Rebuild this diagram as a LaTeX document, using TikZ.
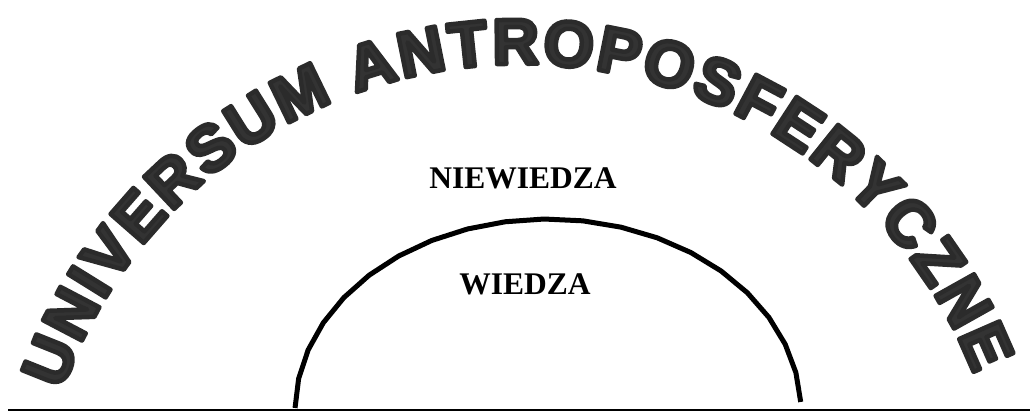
\documentclass[tikz,border=0pt]{standalone}
\usepackage{fontspec}
\setmainfont{Liberation Serif}
\newfontfamily\archfont{Liberation Sans Bold}[FakeBold=7]
\usetikzlibrary{decorations.text}
\newcommand\archstyle{\archfont\fontsize{64}{64}\selectfont}
\newcommand\archchar[1]{\kern1.5pt\special{pdf:bcolor [0.2 0.2 0.2] [0.17 0.17 0.17]}#1\special{pdf:ecolor}\kern1.5pt}
\begin{document}
\begin{tikzpicture}[x=1pt,y=1pt,
  label text/.style={font=\bfseries\fontsize{31.5}{32}\selectfont, anchor=base, inner sep=0pt},
  ground/.style={line width=1.5pt},
  boundary/.style={line width=5pt}]
\useasboundingbox (0,0) rectangle (1030,411);
\coordinate (C) at (521,-139);
\coordinate (gl) at (8,0.75);
\coordinate (gr) at (1030,0.75);
\draw[ground] (gl) -- (gr);
\draw[boundary] plot[samples=21, domain=2.7:179.1] ({548+253*cos(\x)},{192*sin(\x)});
\node[label text] (nie) at (523,222.7) {NIEWIEDZA};
\node[label text] (wie) at (525,116) {WIEDZA};
\begin{scope}[line join=round]
\path[decorate, decoration={text effects along path,
    text={UNIVERSUM ANTROPOSFERYCZNE},
    text align=center,
    text effects/.cd,
      text along path,
      character command=\archchar,
      characters={font=\archstyle}}]
  ([shift={(165:486pt)}]C) arc[start angle=165, end angle=17, radius=486pt];
\end{scope}
\end{tikzpicture}
\end{document}
